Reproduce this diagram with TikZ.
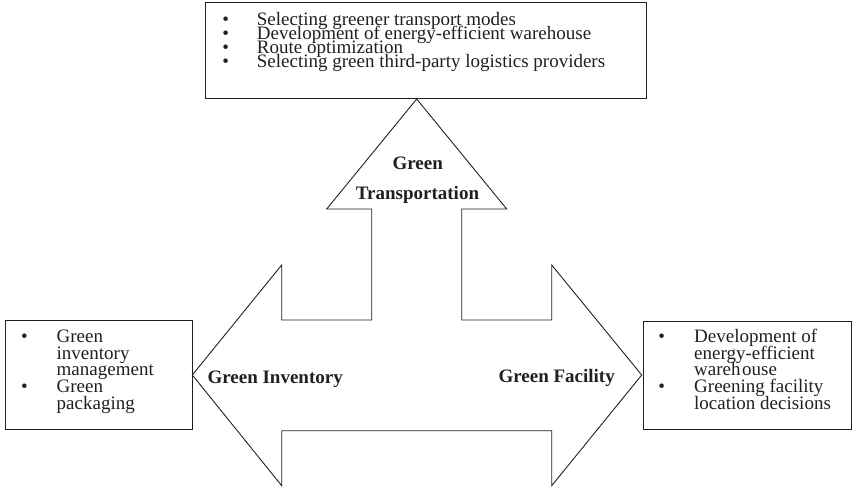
\documentclass[tikz,border=0pt]{standalone}
\usepackage{fontspec}
\setmainfont{Liberation Serif}
\definecolor{ink}{HTML}{231F20}
\begin{document}
\begin{tikzpicture}[x=1pt,y=-1pt,
  outline/.style={draw=ink,line width=0.9pt},
  panel/.style={outline,rectangle,inner sep=0pt},
  entry/.style={anchor=base west,inner sep=0pt,text=ink,font=\fontsize{19}{19}\selectfont},
  bulletmark/.style={anchor=base,inner sep=0pt,text=ink,font=\fontsize{19}{19}\selectfont},
  armtext/.style={inner sep=0pt,text=ink,font=\fontsize{19}{19}\selectfont\bfseries},
]
\useasboundingbox (0,0) rectangle (853,489);

% three-headed block arrow: left, up and right heads on a shared shaft
\draw[outline,line join=miter]
  (192.3,375) -- (281.7,265) -- (281.7,320) -- (371.7,320) -- (371.7,209)
  -- (326.7,209) -- (416.7,99) -- (506.7,209) -- (461.7,209) -- (461.7,320)
  -- (551.7,320) -- (551.7,265) -- (641.7,375) -- (551.7,485.7) -- (551.7,430.7)
  -- (281.7,430.7) -- (281.7,485.7) -- cycle;

% labels inside the arrow heads
\node[armtext,anchor=base] (gtA) at (417.7,169) {Green};
\node[armtext,anchor=base] (gtB) at (417.5,200) {Transportation};
\node[armtext,anchor=base west] (ginv) at (207.3,383.3) {Green Inventory};
\node[armtext,anchor=base west] (gfac) at (498.3,382.5) {Green Facility};

% practice boxes
\node[panel,minimum width=441pt,minimum height=96pt] (topbox) at (425.5,50) {};
\node[panel,minimum width=187pt,minimum height=109pt] (leftbox) at (98.7,374.5) {};
\node[panel,minimum width=207.5pt,minimum height=108pt] (rightbox) at (747.25,375) {};

% transportation practices
\foreach [count=\i] \t in {Selecting greener transport modes,
    Development of energy-efficient warehouse,
    Route optimization,
    Selecting green third-party logistics providers}{
  \node[bulletmark] (tb\i) at (225.7,{25.2+14*(\i-1)}) {•};
  \node[entry] (tt\i) at (256.7,{25.2+14*(\i-1)}) {\t};
}

% inventory practices
\foreach [count=\i] \t in {Green,inventory,management,Green,packaging}{
  \node[entry] (lt\i) at (56.5,{342.3+16.75*(\i-1)}) {\t};
}
\node[bulletmark] (lb1) at (24.5,342.3) {•};
\node[bulletmark] (lb2) at (24.5,{342.3+16.75*3}) {•};

% facility practices
\foreach [count=\i] \t in {Development of,energy-efficient,wareh\kern1.5pt ouse,Greening facility,location decisions}{
  \node[entry] (rt\i) at (694,{342.3+16.75*(\i-1)}) {\t};
}
\node[bulletmark] (rb1) at (661.7,342.3) {•};
\node[bulletmark] (rb2) at (661.7,{342.3+16.75*3}) {•};
\end{tikzpicture}
\end{document}
